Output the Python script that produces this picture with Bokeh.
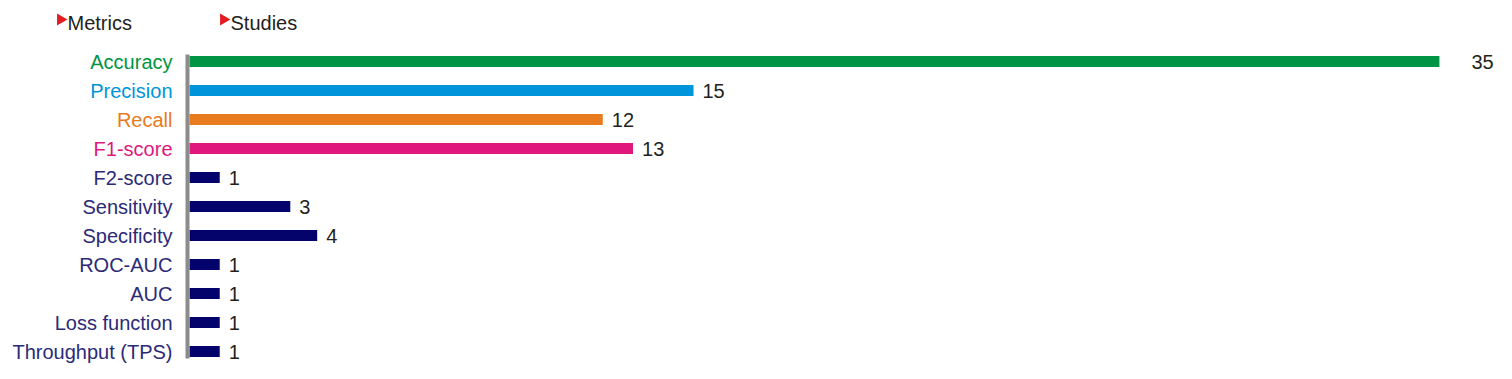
from bokeh.plotting import figure
from bokeh.models import Range1d, ColumnDataSource, Label
from bokeh.embed import file_html
from bokeh.resources import INLINE
from bokeh.core.properties import value

# ---- data ----
metrics = ["Accuracy", "Precision", "Recall", "F1-score", "F2-score", "Sensitivity",
           "Specificity", "ROC-AUC", "AUC", "Loss function", "Throughput (TPS)"]
studies = [35, 15, 12, 13, 1, 3, 4, 1, 1, 1, 1]
# drawn bar lengths as they appear (Accuracy bar is drawn longer than its label)
bar_lengths = [37.2, 15, 12.3, 13.2, 0.9, 3.0, 3.8, 0.9, 0.9, 0.9, 0.9]
bar_colors = ["#009444", "#0095DA", "#E87B1E", "#E0177D"] + ["#03036B"] * 7
text_colors = ["#009444", "#0095DA", "#E87B1E", "#E0177D"] + ["#2B2A78"] * 7
headers = ["Metrics", "Studies"]

W, H = 1496, 363
px_per_unit = 33.6
x0_px = 189
row0_px, row_step = 61, 29.0

FONT = value("Liberation Sans")

p = figure(width=W, height=H, output_backend="svg", toolbar_location=None,
           x_range=Range1d(-x0_px / px_per_unit, (W - x0_px) / px_per_unit),
           y_range=Range1d((H - row0_px) / row_step, -row0_px / row_step),
           min_border=0, min_border_left=0, min_border_right=0,
           min_border_top=0, min_border_bottom=0)
p.axis.visible = False
p.grid.visible = False
p.outline_line_color = None
p.background_fill_color = "white"
p.border_fill_color = "white"

ys = list(range(len(metrics)))
label_offsets = [32] + [9] * (len(metrics) - 1)
src = ColumnDataSource(dict(y=ys, metric=metrics, n=[str(s) for s in studies],
                            length=bar_lengths, bar_color=bar_colors,
                            text_color=text_colors, off=label_offsets,
                            zero=[0] * len(metrics)))

p.hbar(y="y", left=0, right="length", height=11 / row_step, fill_color="bar_color",
       line_color=None, source=src)

# gray baseline
p.segment(x0=-2 / px_per_unit, y0=-0.24, x1=-2 / px_per_unit, y1=10.24,
          line_width=4, line_color="#8C8C8C")

# category labels
p.text(x="zero", y="y", text="metric", x_offset=-17, text_align="right",
       text_baseline="middle", text_font=FONT, text_font_size="20px",
       text_color="text_color", source=src)

# value labels
p.text(x="length", y="y", text="n", x_offset="off", text_align="left",
       text_baseline="middle", text_font=FONT, text_font_size="20px",
       text_color="#231F20", source=src)

# headers with red triangles
hdr_x_px = [67, 230]
hdr_y_px = 22
for name, hx in zip(headers, hdr_x_px):
    p.add_layout(Label(x=hx, y=H - hdr_y_px, x_units="screen", y_units="screen",
                       text=name, text_font="Liberation Sans", text_font_size="20px",
                       text_color="#231F20", text_baseline="middle", text_align="left"))
tri_x = [(hx - 7 - x0_px) / px_per_unit for hx in hdr_x_px]
p.scatter(x=tri_x, y=[(hdr_y_px - 3 - row0_px) / row_step] * 2, marker="triangle",
          size=12, angle=-1.5708, fill_color="#E31B23", line_color=None)

open("out.html", "w").write(file_html(p, INLINE))
